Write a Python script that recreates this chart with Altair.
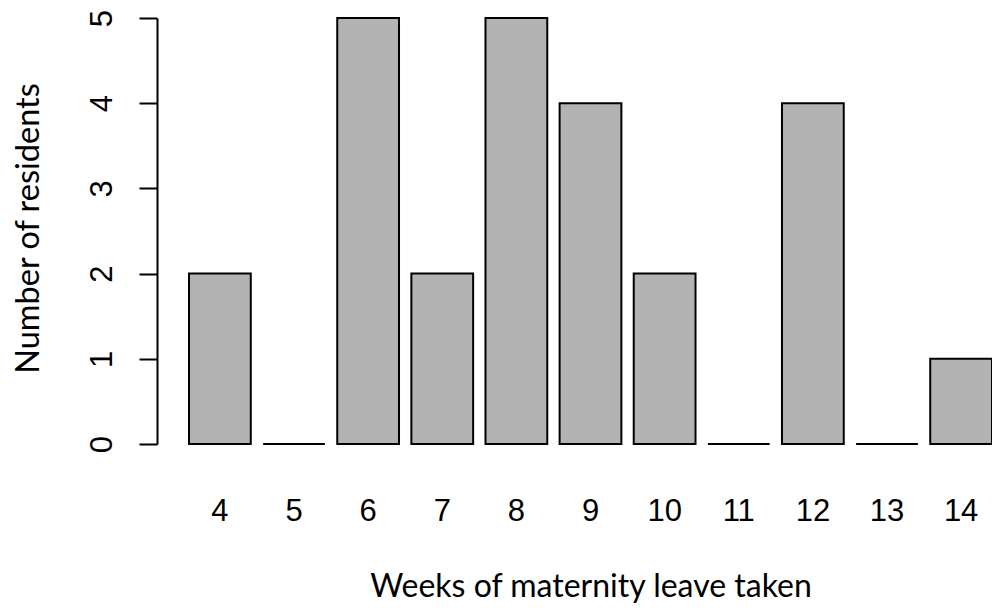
import altair as alt
import pandas as pd

weeks = ["4", "5", "6", "7", "8", "9", "10", "11", "12", "13", "14"]
residents = [2, 0, 5, 2, 5, 4, 2, 0, 4, 0, 1]

df = pd.DataFrame({"week": weeks, "n": residents})

chart = alt.Chart(df).mark_bar(
    fill="#b3b3b3", stroke="black", strokeWidth=2
).encode(
    x=alt.X("week:N", sort=weeks,
            scale=alt.Scale(paddingInner=0.1667, paddingOuter=0),
            axis=alt.Axis(title="Weeks of maternity leave taken", labelAngle=0,
                          domain=False, ticks=False, labelPadding=52,
                          labelFont="Liberation Sans", labelFontSize=31,
                          labelColor="black",
                          titleFont="Lato", titleFontSize=32, titleFontWeight="normal",
                          titleColor="black", titleBaseline="alphabetic", titleY=152)),
    y=alt.Y("n:Q", scale=alt.Scale(domain=[0, 5], nice=False),
            axis=alt.Axis(title="Number of residents", values=[0, 1, 2, 3, 4, 5],
                          offset=32, grid=False, domainColor="black", domainWidth=2,
                          tickColor="black", tickWidth=2, tickSize=18,
                          labelAngle=270, labelAlign="center", labelBaseline="alphabetic",
                          labelPadding=28, labelFont="Liberation Sans", labelFontSize=31,
                          labelColor="black",
                          titleFont="Lato", titleFontSize=32.5, titleFontWeight="normal",
                          titleColor="black", titleAngle=270, titleBaseline="alphabetic",
                          titleX=-119, titleY=210))
).properties(
    width=803, height=426,
    autosize=alt.AutoSizeParams(type="none"),
    padding={"left": 181, "top": 10, "right": 0, "bottom": 159}
).configure_view(stroke=None)

chart.save("out.html", embed_options={"renderer": "svg", "actions": False})
